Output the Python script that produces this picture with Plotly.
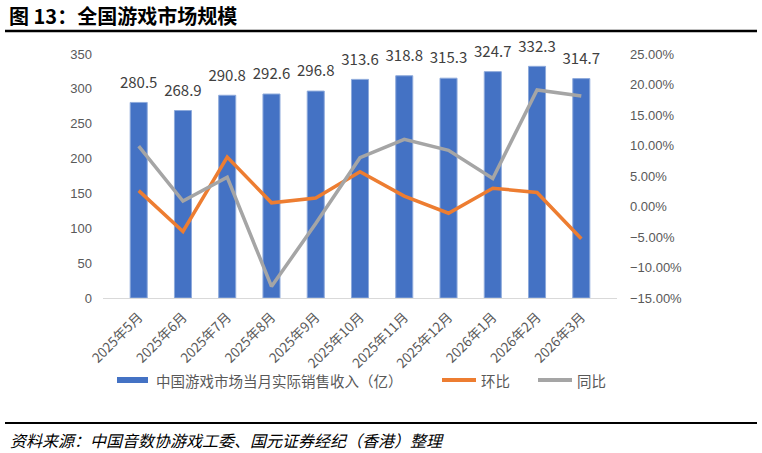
import plotly.graph_objects as go

months = ["2025年5月", "2025年6月", "2025年7月", "2025年8月", "2025年9月", "2025年10月",
          "2025年11月", "2025年12月", "2026年1月", "2026年2月", "2026年3月"]
revenue = [280.5, 268.9, 290.8, 292.6, 296.8, 313.6, 318.8, 315.3, 324.7, 332.3, 314.7]
mom_pct = [2.6, -4.1, 8.1, 0.6, 1.4, 5.7, 1.7, -1.1, 3.0, 2.3, -5.3]
yoy_pct = [9.9, 0.9, 4.8, -13.1, -2.8, 8.0, 11.0, 9.2, 4.6, 19.1, 18.1]

W, H = 762, 453
PL, PR, PT, PB = 103, 617, 54, 298

def px(x):
    return (x - PL) / (PR - PL)

def py(y):
    return (PB - y) / (PB - PT)

CJK = "Noto Sans CJK SC"
GREY_TXT = "#595959"

fig = go.Figure()
fig.add_trace(go.Bar(
    x=months, y=revenue, name="中国游戏市场当月实际销售收入（亿）",
    marker=dict(color="#4472C4", line=dict(color="#8eaadb", width=1)),
))
fig.add_trace(go.Scatter(
    x=months, y=revenue, mode="markers+text", showlegend=False, hoverinfo="skip",
    marker=dict(size=16, color="rgba(0,0,0,0)"),
    text=[f"{v:.1f}" for v in revenue], textposition="top center", cliponaxis=False,
    textfont=dict(family=CJK, size=15, color="#404040"),
))
fig.add_trace(go.Scatter(
    x=months, y=mom_pct, name="环比", yaxis="y2", mode="lines",
    line=dict(color="#ED7D31", width=3.5),
))
fig.add_trace(go.Scatter(
    x=months, y=yoy_pct, name="同比", yaxis="y2", mode="lines",
    line=dict(color="#A5A5A5", width=3.5),
))

shapes = [
    dict(type="line", xref="paper", yref="paper", x0=px(5), x1=px(757), y0=py(31), y1=py(31),
         line=dict(color="#000000", width=2.5)),
    dict(type="line", xref="paper", yref="paper", x0=px(5), x1=px(757), y0=py(423), y1=py(423),
         line=dict(color="#000000", width=2)),
    dict(type="rect", xref="paper", yref="paper", x0=px(117), x1=px(148), y0=py(383), y1=py(377),
         fillcolor="#4472C4", line=dict(width=0)),
    dict(type="line", xref="paper", yref="paper", x0=px(442), x1=px(476), y0=py(380), y1=py(380),
         line=dict(color="#ED7D31", width=4)),
    dict(type="line", xref="paper", yref="paper", x0=px(538), x1=px(572), y0=py(380), y1=py(380),
         line=dict(color="#A5A5A5", width=4)),
]

annotations = [
    dict(text="<b>图 13：全国游戏市场规模</b>", xref="paper", yref="paper", x=px(7), y=py(16),
         xanchor="left", yanchor="middle", showarrow=False,
         font=dict(family=CJK, size=20, color="#000000")),
    dict(text="<i>资料来源：中国音数协游戏工委、国元证券经纪（香港）整理</i>", xref="paper", yref="paper",
         x=px(8), y=py(440), xanchor="left", yanchor="middle", showarrow=False,
         font=dict(family=CJK, size=16, color="#000000")),
    dict(text="中国游戏市场当月实际销售收入（亿）", xref="paper", yref="paper", x=px(154), y=py(380),
         xanchor="left", yanchor="middle", showarrow=False,
         font=dict(family=CJK, size=14.5, color=GREY_TXT)),
    dict(text="环比", xref="paper", yref="paper", x=px(479), y=py(380),
         xanchor="left", yanchor="middle", showarrow=False,
         font=dict(family=CJK, size=14.5, color=GREY_TXT)),
    dict(text="同比", xref="paper", yref="paper", x=px(575), y=py(380),
         xanchor="left", yanchor="middle", showarrow=False,
         font=dict(family=CJK, size=14.5, color=GREY_TXT)),
]

fig.update_layout(
    width=W, height=H, autosize=False,
    margin=dict(l=PL, r=W - PR, t=PT, b=H - PB, pad=0),
    paper_bgcolor="white", plot_bgcolor="white",
    showlegend=False, bargap=0.615,
    font=dict(family=CJK, color=GREY_TXT),
    xaxis=dict(showgrid=False, showline=True, linecolor="#d9d9d9", linewidth=1,
               tickangle=-45, ticks="", ticklabelstandoff=5,
               tickfont=dict(family=CJK, size=13.5, color=GREY_TXT)),
    yaxis=dict(range=[0, 350], dtick=50, showgrid=False, zeroline=False, showline=False,
               ticks="", ticklabelstandoff=10,
               tickfont=dict(family="Liberation Sans", size=13, color=GREY_TXT)),
    yaxis2=dict(range=[-15, 25], dtick=5, overlaying="y", side="right", showgrid=False,
                zeroline=False, showline=False, ticks="", tickformat=".2f", ticksuffix="%",
                ticklabelstandoff=12,
                tickfont=dict(family="Liberation Sans", size=13, color=GREY_TXT)),
    shapes=shapes, annotations=annotations,
)

fig.write_html("out.html")
